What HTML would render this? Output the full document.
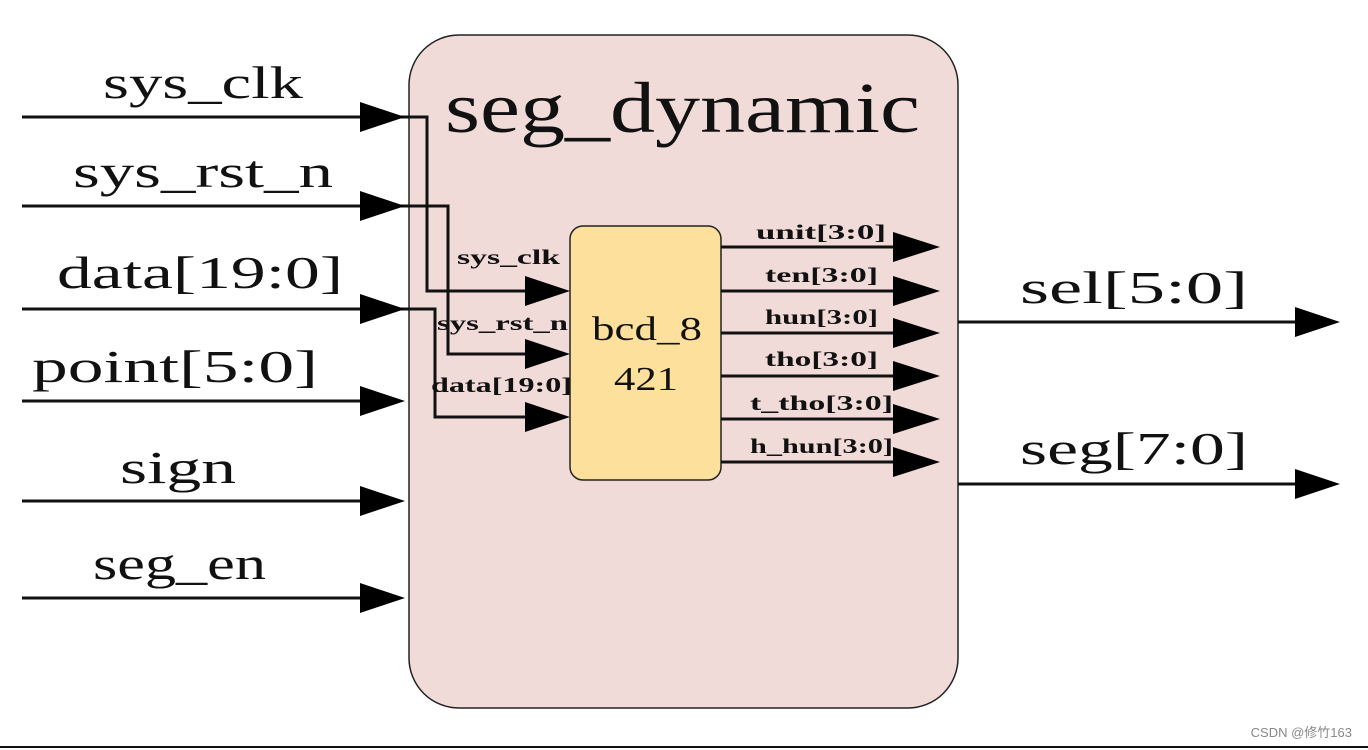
<!DOCTYPE html>
<html><head><meta charset="utf-8"><style>html,body{margin:0;padding:0;background:#fff}svg{display:block}</style></head><body>
<svg width="1368" height="750" viewBox="0 0 1368 750" xmlns="http://www.w3.org/2000/svg" font-family="'Liberation Serif','Noto Serif CJK SC',serif">
<rect x="409" y="35" width="549" height="673" rx="50" fill="#f0dbd9" stroke="#222" stroke-width="1.5"/>
<text x="445" y="132" font-size="72" fill="#111" textLength="475" lengthAdjust="spacingAndGlyphs">seg_dynamic</text>
<rect x="570" y="226" width="151" height="254" rx="13" fill="#fde09b" stroke="#222" stroke-width="1.5"/>
<text x="592" y="340" font-size="34" fill="#111" textLength="110" lengthAdjust="spacingAndGlyphs">bcd_8</text>
<text x="614" y="390" font-size="34" fill="#111" textLength="64" lengthAdjust="spacingAndGlyphs">421</text>
<g stroke="#111" stroke-width="3" fill="none">
<path d="M22 117H427V291H528"/>
<path d="M22 206H448V354H528"/>
<path d="M22 309H435V417H528"/>
<path d="M22 401H362"/><path d="M22 501H362"/><path d="M22 598H362"/>
<path d="M721 247H895M721 291H895M721 333H895M721 376H895M721 419H895M721 462H895"/>
<path d="M958 322H1297M958 484H1297"/>
</g>
<g fill="#000">
<path d="M360 102L405 117L360 132Z"/><path d="M360 191L405 206L360 221Z"/><path d="M360 294L405 309L360 324Z"/>
<path d="M360 386L405 401L360 416Z"/><path d="M360 486L405 501L360 516Z"/><path d="M360 583L405 598L360 613Z"/>
<path d="M525 276L570 291L525 306Z"/><path d="M525 339L570 354L525 369Z"/><path d="M525 402L570 417L525 432Z"/>
<path d="M893 232L940 247L893 262Z"/><path d="M893 276L940 291L893 306Z"/><path d="M893 318L940 333L893 348Z"/>
<path d="M893 361L940 376L893 391Z"/><path d="M893 404L940 419L893 434Z"/><path d="M893 447L940 462L893 477Z"/>
<path d="M1295 307L1340 322L1295 337Z"/><path d="M1295 469L1340 484L1295 499Z"/>
</g>
<g font-size="46" fill="#111" lengthAdjust="spacingAndGlyphs">
<text x="103" y="98" textLength="200" lengthAdjust="spacingAndGlyphs">sys_clk</text>
<text x="73" y="187" textLength="260" lengthAdjust="spacingAndGlyphs">sys_rst_n</text>
<text x="57" y="288" textLength="286" lengthAdjust="spacingAndGlyphs">data[19:0]</text>
<text x="32" y="382" textLength="286" lengthAdjust="spacingAndGlyphs">point[5:0]</text>
<text x="120" y="483" textLength="116" lengthAdjust="spacingAndGlyphs">sign</text>
<text x="93" y="579" textLength="173" lengthAdjust="spacingAndGlyphs">seg_en</text>
<text x="1020" y="303" textLength="228" lengthAdjust="spacingAndGlyphs">sel[5:0]</text>
<text x="1020" y="464" textLength="228" lengthAdjust="spacingAndGlyphs">seg[7:0]</text>
</g>
<g font-size="21" font-weight="bold" fill="#111">
<text x="457" y="264" textLength="103" lengthAdjust="spacingAndGlyphs">sys_clk</text>
<text x="437" y="330" textLength="131" lengthAdjust="spacingAndGlyphs">sys_rst_n</text>
<text x="431" y="392" textLength="141" lengthAdjust="spacingAndGlyphs">data[19:0]</text>
<text x="756" y="239" textLength="130" lengthAdjust="spacingAndGlyphs">unit[3:0]</text>
<text x="765" y="282" textLength="113" lengthAdjust="spacingAndGlyphs">ten[3:0]</text>
<text x="765" y="324" textLength="113" lengthAdjust="spacingAndGlyphs">hun[3:0]</text>
<text x="765" y="366" textLength="113" lengthAdjust="spacingAndGlyphs">tho[3:0]</text>
<text x="750" y="410" textLength="143" lengthAdjust="spacingAndGlyphs">t_tho[3:0]</text>
<text x="750" y="453" textLength="143" lengthAdjust="spacingAndGlyphs">h_hun[3:0]</text>
</g>
<line x1="0" y1="747" x2="1368" y2="747" stroke="#111" stroke-width="2"/>
<text x="1352" y="737" font-size="13" fill="#888" text-anchor="end" font-family="'Liberation Sans','Noto Sans CJK SC',sans-serif">CSDN @修竹163</text>
</svg>
</body></html>
